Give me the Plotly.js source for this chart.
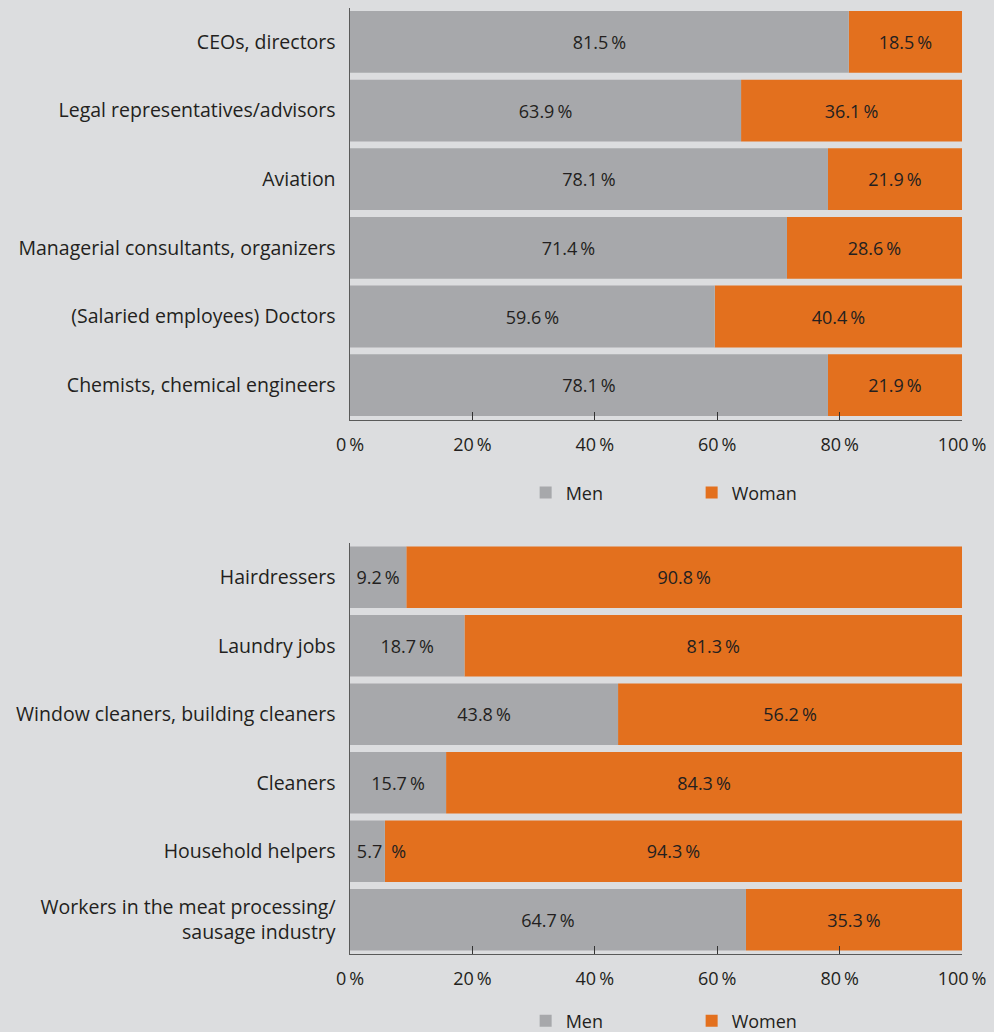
<!DOCTYPE html>
<html><head><meta charset="utf-8">
<script src="https://cdn.plot.ly/plotly-3.0.1.min.js"></script>
<style>html,body{margin:0;padding:0;background:#dcdddf}</style>
</head><body>
<div id="chart" style="width:994px;height:1032px"></div>
<script>
const topCategories = ["CEOs, directors","Legal representatives/advisors","Aviation","Managerial consultants, organizers","(Salaried employees) Doctors","Chemists, chemical engineers"];
const topMen = [81.5, 63.9, 78.1, 71.4, 59.6, 78.1];
const topWoman = [18.5, 36.1, 21.9, 28.6, 40.4, 21.9];
const bottomCategories = ["Hairdressers","Laundry jobs","Window cleaners, building cleaners","Cleaners","Household helpers","Workers in the meat processing/<br>sausage industry"];
const bottomMen = [9.2, 18.7, 43.8, 15.7, 5.7, 64.7];
const bottomWomen = [90.8, 81.3, 56.2, 84.3, 94.3, 35.3];
const tickValues = [0, 20, 40, 60, 80, 100];
const tickLabels = ["0\u2009%","20\u2009%","40\u2009%","60\u2009%","80\u2009%","100\u2009%"];

const GRAY = "#a7a8ab", ORANGE = "#e3701e", BG = "#dcdddf", TXT = "#231f20";
const FONT = "Open Sans";
function lab(v){
  const s = v.toFixed(1);
  return v < 8 ? "\u00a0\u00a0\u00a0\u00a0\u00a0\u00a0" + s + "\u2002%" : s + "\u2009%";
}
function bar(x, y, base, name, color, xa, ya, lg, rank){
  const t = {type:"bar", orientation:"h", x:x, y:y, name:name, xaxis:xa, yaxis:ya, legend:lg,
    legendrank:rank,
    marker:{color:color, line:{width:0}}, text:x.map(lab), textposition:"inside",
    insidetextanchor:"middle", textangle:0, constraintext:"none",
    textfont:{family:FONT, size:18, color:TXT}, hoverinfo:"skip"};
  if (base) t.base = base;
  return t;
}
// women drawn first (starting where the men bar ends), men drawn on top so overflowing labels stay visible
const data = [
  bar(topWoman, topCategories, topMen, "Woman", ORANGE, "x", "y", "legend", 2),
  bar(topMen, topCategories, null, "Men", GRAY, "x", "y", "legend", 1),
  bar(bottomWomen, bottomCategories, bottomMen, "Women", ORANGE, "x2", "y2", "legend2", 2),
  bar(bottomMen, bottomCategories, null, "Men", GRAY, "x2", "y2", "legend2", 1)
];
const xax = (anchor) => ({anchor:anchor, range:[0,100], tickvals:tickValues, ticktext:tickLabels,
  showgrid:false, zeroline:false, showline:true, linecolor:"#5a5a5a", linewidth:1.5,
  ticks:"inside", ticklen:8, tickcolor:"#333", tickwidth:1, ticklabelstandoff:8,
  tickfont:{family:FONT, size:18, color:TXT}, fixedrange:true});
const yax = (anchor, dom) => ({anchor:anchor, domain:dom, autorange:"reversed", showgrid:false,
  zeroline:false, showline:true, linecolor:"#5a5a5a", linewidth:1.5, ticks:"", ticklabelstandoff:9,
  tickfont:{family:FONT, size:19.5, color:TXT}, fixedrange:true});
const legendCommon = {orientation:"h", xanchor:"left", yanchor:"middle",
    bgcolor:"rgba(0,0,0,0)", font:{family:FONT, size:18, color:TXT},
    entrywidth:121, entrywidthmode:"pixels", traceorder:"normal"};
const layout = {
  width:994, height:1032, paper_bgcolor:BG, plot_bgcolor:BG,
  margin:{l:350, r:32, t:0, b:0, autoexpand:false}, barmode:"overlay", bargap:0.1,
  font:{family:FONT, color:TXT},
  xaxis: xax("y"), yaxis: yax("x", [0.5935, 0.9927]),
  xaxis2: xax("y2"), yaxis2: yax("x2", [0.0756, 0.4738]),
  legend: Object.assign({x:0.287, y:0.5224}, legendCommon),
  legend2: Object.assign({x:0.287, y:0.0107}, legendCommon),
  showlegend:true
};
Plotly.newPlot("chart", data, layout, {displayModeBar:false, staticPlot:true});
</script>
</body></html>
